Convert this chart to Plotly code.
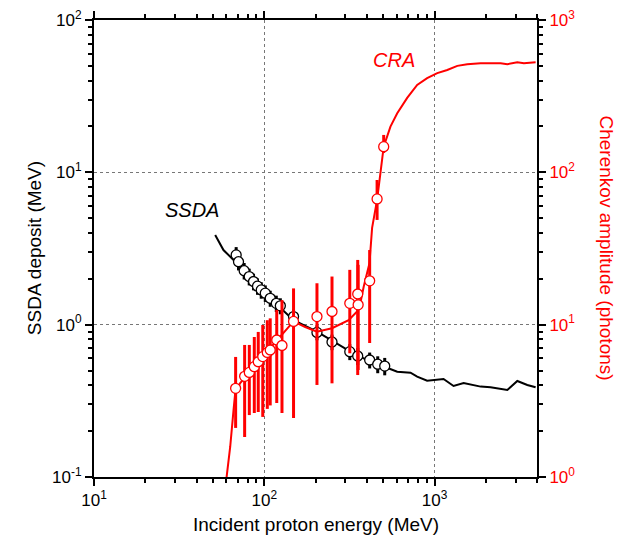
import plotly.graph_objects as go

# ---------------- data ----------------
# SSDA simulated curve (MeV deposit vs proton energy)
ssda_curve_e = [51.5, 57.6, 66.0, 79.1, 99.1, 118.9, 148.6, 204, 255.6, 320.6, 402, 503, 604, 723, 791,
                905, 1038, 1130, 1294, 1483, 1866, 2134, 2677, 3065, 3508, 3926]
ssda_curve_v = [3.88, 3.09, 2.66, 2.12, 1.61, 1.35, 1.07, 0.90, 0.77, 0.665, 0.586, 0.53, 0.491, 0.484, 0.456,
                0.429, 0.434, 0.44, 0.396, 0.414, 0.392, 0.388, 0.3725, 0.427, 0.402, 0.388]

# SSDA measured points
ssda_e = [68.4, 70.6, 76.2, 81.6, 86.5, 91.3, 96.0, 101.4, 108.4, 117.7, 124.3, 148.6, 204, 250, 318, 354, 416, 464, 510]
ssda_v = [2.87, 2.59, 2.26, 2.07, 1.92, 1.79, 1.69, 1.61, 1.49, 1.38, 1.33, 1.13, 0.89, 0.77, 0.665, 0.623, 0.586, 0.55, 0.535]
ssda_err = [0.36, 0.32, 0.28, 0.26, 0.24, 0.22, 0.21, 0.2, 0.18, 0.17, 0.16, 0.13, 0.1, 0.09, 0.08, 0.08, 0.07, 0.07, 0.07]

# CRA simulated curve (photons vs proton energy)
cra_curve_e = [59.8, 63.1, 66.0, 67.5, 72.2, 77.3, 82.7, 88.6, 94.7, 101.4, 108.4, 118.8, 133, 148.6, 174, 204,
               250, 313, 351, 367, 384, 415, 430, 460, 481, 503, 551, 604, 691, 791, 905, 1038, 1188, 1361,
               1557, 1866, 2445, 2677, 3065, 3350, 3926]
cra_curve_c = [0.955, 1.58, 2.75, 3.56, 4.14, 4.55, 4.91, 5.30, 5.86, 6.52, 7.03, 7.93, 9.23, 10.5, 9.66, 9.0,
               9.47, 10.7, 12.2, 13.9, 17.8, 25.3, 43.2, 65.9, 98.6, 147.5, 199.5, 244, 308, 375, 415, 448, 470, 500,
               513, 520, 520, 513, 528, 520, 528]

# CRA measured points with error-bar ends
cra_e = [67.9, 76.7, 81.7, 87.4, 92.2, 98.0, 104.2, 108.4, 118.4, 127.1, 148.6, 204, 250, 318, 354, 356, 416, 460, 503]
cra_c = [3.82, 4.58, 4.86, 5.30, 5.71, 6.17, 6.57, 6.82, 7.93, 7.30, 10.5, 11.3, 12.2, 13.8, 15.9, 13.5, 19.4, 66.9, 147.4]
cra_hi = [6.14, 7.36, 7.36, 8.30, 8.96, 9.95, 10.7, 11.0, 12.5, 14.5, 17.3, 18.7, 20.7, 22.9, 26.6, 24.7, 30.9, 89.1, 176]
cra_lo = [2.10, 1.83, 2.55, 2.63, 2.67, 2.48, 2.80, 2.95, 3.06, 2.63, 2.44, 4.02, 4.12, 6.49, 4.67, 5.04, 7.58, 48.7, 134]

x_ticks = [10, 100, 1000]
x_ticktext = ["10<sup>1</sup>", "10<sup>2</sup>", "10<sup>3</sup>"]
y_ticks = [0.1, 1, 10, 100]
y_ticktext = ["10<sup>-1</sup>", "10<sup>0</sup>", "10<sup>1</sup>", "10<sup>2</sup>"]
y2_ticks = [1, 10, 100, 1000]
y2_ticktext = ["10<sup>0</sup>", "10<sup>1</sup>", "10<sup>2</sup>", "10<sup>3</sup>"]

x_minor = [m * d for d in (10, 100, 1000) for m in range(2, 10) if m * d <= 4000]
y_minor = [m * d for d in (0.1, 1, 10) for m in range(2, 10)]
y2_minor = [m * d for d in (1, 10, 100) for m in range(2, 10)]

RED = "#ff0000"
FONT = "Liberation Sans, Arial, sans-serif"

fig = go.Figure()

fig.add_trace(go.Scatter(x=ssda_curve_e, y=ssda_curve_v, mode="lines",
                         line=dict(color="black", width=2), yaxis="y", hoverinfo="skip"))
fig.add_trace(go.Scatter(x=ssda_e, y=ssda_v, mode="markers",
                         marker=dict(symbol="circle", size=10, color="white",
                                     line=dict(color="black", width=1.3)),
                         error_y=dict(type="data", array=ssda_err, color="black", thickness=3, width=0),
                         yaxis="y"))

cra_plus = [h - c for h, c in zip(cra_hi, cra_c)]
cra_minus = [c - l for c, l in zip(cra_c, cra_lo)]

fig.add_trace(go.Scatter(x=cra_curve_e, y=cra_curve_c, mode="lines",
                         line=dict(color=RED, width=2), yaxis="y2", hoverinfo="skip"))
fig.add_trace(go.Scatter(x=cra_e, y=cra_c, mode="markers",
                         marker=dict(symbol="circle", size=10, color="white",
                                     line=dict(color=RED, width=1.3)),
                         error_y=dict(type="data", symmetric=False, array=cra_plus, arrayminus=cra_minus,
                                      color=RED, thickness=3, width=0),
                         yaxis="y2"))

axis_common = dict(type="log", showline=True, linecolor="black", linewidth=2,
                   ticks="outside", ticklen=7, tickwidth=1.5, tickcolor="black",
                   tickfont=dict(family=FONT, size=17, color="black"),
                   zeroline=False, automargin=False)

fig.update_layout(
    width=621, height=543,
    margin=dict(l=94, r=84, t=20, b=66, autoexpand=False),
    plot_bgcolor="white", paper_bgcolor="white",
    showlegend=False,
    font=dict(family=FONT, size=17, color="black"),
    xaxis=dict(**axis_common, range=[1, 3.602], tickvals=x_ticks, ticktext=x_ticktext,
               mirror="ticks", showgrid=True, gridcolor="#777777", griddash="dot", gridwidth=1,
               minor=dict(tickvals=x_minor, ticks="outside", ticklen=4, tickwidth=1.5,
                          tickcolor="black", showgrid=False)),
    yaxis=dict(**axis_common, range=[-1, 2], tickvals=y_ticks, ticktext=y_ticktext,
               showgrid=True, gridcolor="#777777", griddash="dot", gridwidth=1,
               minor=dict(tickvals=y_minor, ticks="outside", ticklen=4, tickwidth=1.5,
                          tickcolor="black", showgrid=False)),
    yaxis2=dict(type="log", overlaying="y", side="right", range=[0, 3],
                tickvals=y2_ticks, ticktext=y2_ticktext, automargin=False,
                showline=True, linecolor="black", linewidth=2,
                ticks="outside", ticklen=7, tickwidth=1.5, tickcolor="black",
                tickfont=dict(family=FONT, size=17, color=RED),
                showgrid=False, zeroline=False,
                minor=dict(tickvals=y2_minor, ticks="outside", ticklen=4, tickwidth=1.5,
                           tickcolor="black", showgrid=False)),
    annotations=[
        dict(text="SSDA deposit (MeV)", xref="paper", yref="paper", x=-0.134, y=0.5,
             xanchor="center", yanchor="middle", textangle=-90, showarrow=False,
             font=dict(family=FONT, size=19, color="black")),
        dict(text="Cherenkov amplitude (photons)", xref="paper", yref="paper", x=1.158, y=0.5,
             xanchor="center", yanchor="middle", textangle=90, showarrow=False,
             font=dict(family=FONT, size=19, color=RED)),
        dict(text="Incident proton energy (MeV)", xref="paper", yref="paper", x=0.5, y=-0.105,
             xanchor="center", yanchor="middle", showarrow=False,
             font=dict(family=FONT, size=19, color="black")),
        dict(text="<i>SSDA</i>", xref="x", yref="y", x=1.575, y=0.75,
             xanchor="center", yanchor="middle", showarrow=False,
             font=dict(family=FONT, size=20, color="black")),
        dict(text="<i>CRA</i>", xref="x", yref="y", x=2.76, y=1.74,
             xanchor="center", yanchor="middle", showarrow=False,
             font=dict(family=FONT, size=20, color=RED)),
    ],
)

# remove the default 8px page margin so the figure sits at the window's top-left corner
fig.write_html("out.html", config={"displayModeBar": False},
               post_script="document.body.style.margin='0';")
